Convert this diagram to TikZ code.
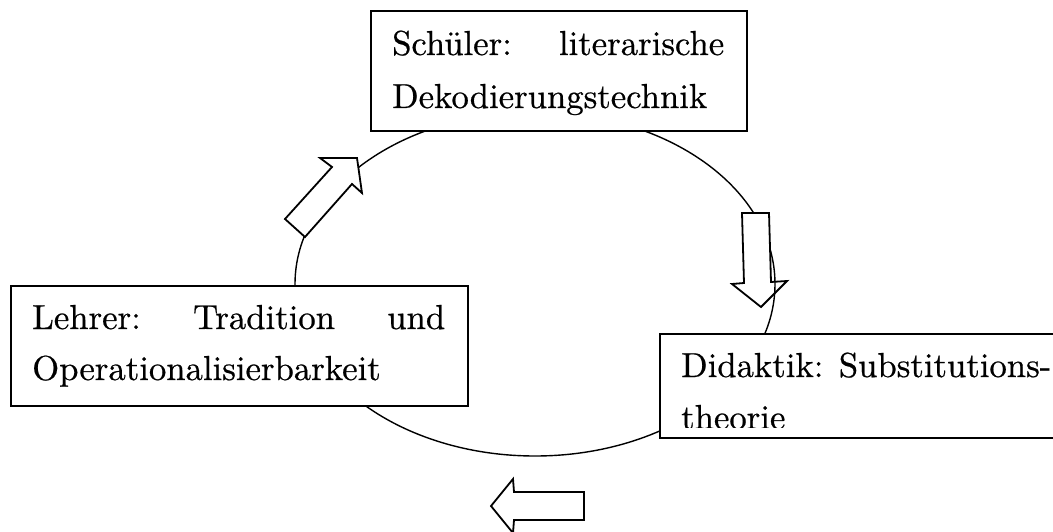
\documentclass[tikz,border=0pt]{standalone}
\usepackage{fontspec}
\newfontfamily\boxfont{lmroman10-regular.otf}[FakeBold=0.6]
\begin{document}
\begin{tikzpicture}[x=1pt,y=-1pt,
  boxframe/.style={draw, line width=1.8pt, fill=white, inner sep=0pt, anchor=north west},
  txt/.style={inner sep=0pt, anchor=base west, font=\boxfont\fontsize{34.7}{52}\selectfont},
  blockarrow/.style={draw, line width=1.8pt, fill=white, line join=miter},
  ring/.style={draw, line width=1.4pt}]
\useasboundingbox (0,0) rectangle (1053,532);
\clip (0,0) rectangle (1053,532);
% cycle ellipse
\draw[ring] (535,284) ellipse [x radius=240, y radius=172];
% block arrows
\draw[blockarrow] (320,158) -- (357,158) -- (362,193) -- (352,184) -- (305,237) -- (285,219) -- (332,167) -- cycle;
\draw[blockarrow] (742,213) -- (769,213) -- (771,282) -- (787,281) -- (761,307) -- (732,284) -- (744,283) -- cycle;
\begin{scope}
\clip (771,282) -- (787,281) -- (761,307) -- (732,284) -- (744,283) -- cycle;
\draw[ring] (535,284) ellipse [x radius=240, y radius=172];
\end{scope}
\draw[blockarrow] (491,506) -- (513,479) -- (514,492) -- (584,492) -- (584,520) -- (514,520) -- (513,533) -- cycle;
% boxes
\node[boxframe, minimum width=376pt, minimum height=120pt] (schueler) at (370,10) {};
\node[boxframe, minimum width=457pt, minimum height=120pt] (lehrer) at (10,285) {};
\node[boxframe, minimum width=420pt, minimum height=104pt] (didaktik) at (659,333) {};
% texts
\node[txt] (schuelerA) at (392,55) {\hbox to 332pt{Schüler:\hfill literarische}};
\node[txt] (schuelerB) at (392,108) {Dekodierungstechnik};
\node[txt] (lehrerA) at (32,329) {\hbox to 413pt{Lehrer:\hfill Tradition\hfill und}};
\node[txt] (lehrerB) at (32,380) {Operationalisierbarkeit};
\node[txt] (didaktikA) at (681,377) {Didaktik: Substitutions-};
\begin{scope}
\clip (659,333) rectangle (1060,427);
\node[txt] (didaktikB) at (681,429) {theorie};
\end{scope}
\end{tikzpicture}
\end{document}
